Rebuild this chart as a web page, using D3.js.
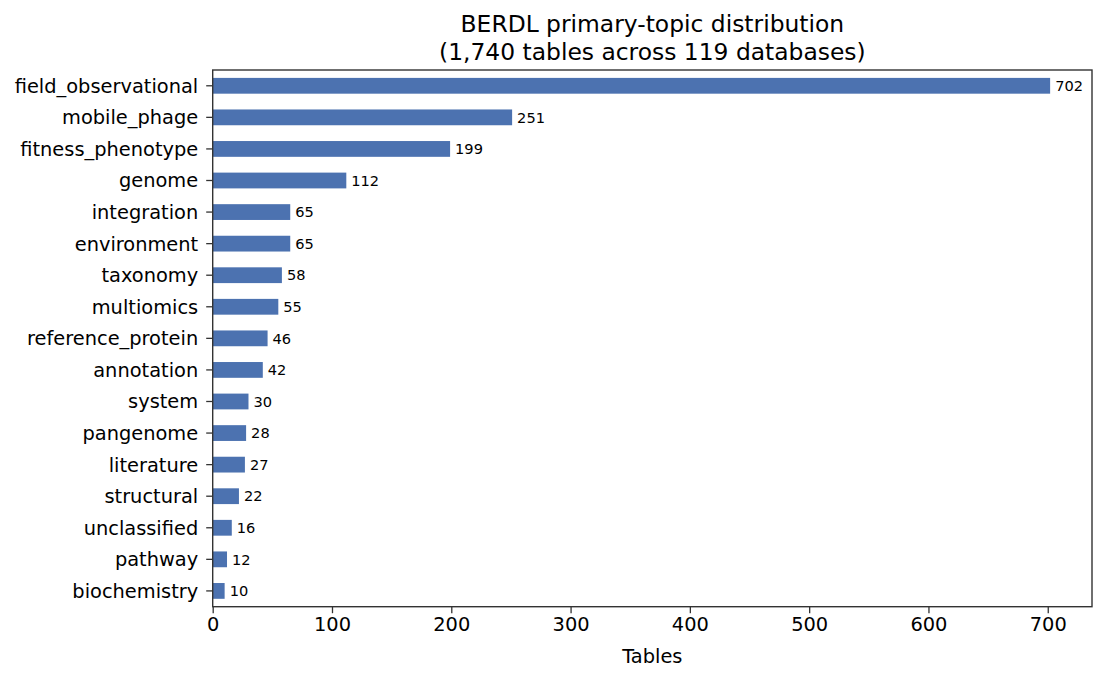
<!DOCTYPE html>
<html><head><meta charset="utf-8">
<script src="https://cdn.jsdelivr.net/npm/d3@7"></script>
<style>body{margin:0;background:#fff}text{font-family:"DejaVu Sans",sans-serif;fill:#000}</style>
</head><body><svg id="c" width="1106" height="680"></svg>
<script>
const categories = ["field_observational","mobile_phage","fitness_phenotype","genome","integration","environment","taxonomy","multiomics","reference_protein","annotation","system","pangenome","literature","structural","unclassified","pathway","biochemistry"];
const values = [702,251,199,112,65,65,58,55,46,42,30,28,27,22,16,12,10];
const xTicks = [0,100,200,300,400,500,600,700];
const titleLines = ["BERDL primary-topic distribution","(1,740 tables across 119 databases)"];
const xLabel = "Tables";

const svg = d3.select("#c");
const L=212.7, R=1092, T=70, B=606.7;
const x = d3.scaleLinear().domain([0, d3.max(values)*1.05]).range([L,R]);
const y = d3.scaleBand().domain(categories).range([T,B]).paddingInner(0.5).paddingOuter(0.25);
const axisColor = "#333";

svg.selectAll("rect.bar").data(values).join("rect").attr("class","bar")
  .attr("x", x(0)).attr("y",(d,i)=>y(categories[i])).attr("width",d=>x(d)-x(0))
  .attr("height", y.bandwidth()).attr("fill","#4c72b0");

svg.selectAll("text.val").data(values).join("text").attr("class","val")
  .attr("x", d=>x(d)+5).attr("y",(d,i)=>y(categories[i])+y.bandwidth()/2)
  .attr("dy","0.36em").attr("font-size","14.6px").text(d=>d);

const xa = svg.append("g").attr("transform",`translate(0,${B})`)
  .call(d3.axisBottom(x).tickValues(xTicks).tickSize(6.5).tickPadding(4).tickFormat(d3.format("d")));
const ya = svg.append("g").attr("transform",`translate(${L},0)`)
  .call(d3.axisLeft(y).tickSize(6.5).tickPadding(8));
[xa,ya].forEach(a=>{a.select(".domain").remove();a.selectAll("line").attr("stroke",axisColor).attr("stroke-width",1.3);
  a.selectAll("text").attr("font-size","19.4px").attr("font-family","DejaVu Sans").attr("fill","#000");});
ya.selectAll("text").attr("dy","0.36em");

svg.append("rect").attr("x",L).attr("y",T).attr("width",R-L).attr("height",B-T)
  .attr("fill","none").attr("stroke",axisColor).attr("stroke-width",1.4);

svg.append("g").selectAll("text").data(titleLines).join("text")
  .attr("x",(L+R)/2).attr("y",(d,i)=>32+i*28).attr("text-anchor","middle")
  .attr("font-size","23.4px").text(d=>d);
svg.append("text").attr("x",(L+R)/2).attr("y",663).attr("text-anchor","middle")
  .attr("font-size","19.4px").text(xLabel);
</script></body></html>
